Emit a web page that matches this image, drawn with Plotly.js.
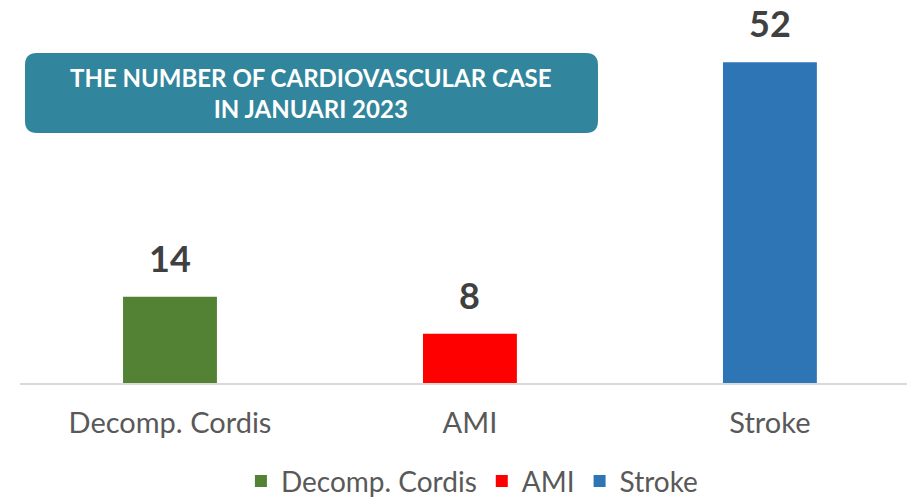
<!DOCTYPE html>
<html>
<head>
<meta charset="utf-8">
<script src="https://cdn.plot.ly/plotly-3.0.1.min.js"></script>
<style>html,body{margin:0;padding:0;background:#fff;}</style>
</head>
<body>
<div id="chart" style="width:907px;height:500px;"></div>
<script>
const categories = ["Decomp. Cordis", "AMI", "Stroke"];
const values = [14, 8, 52];
const colors = ["#548235", "#FF0000", "#2E75B6"];
const titleText = "THE NUMBER OF CARDIOVASCULAR CASE<br>IN JANUARI 2023";

const FONT = "Lato, 'Open Sans', sans-serif";

const traces = categories.map((c, i) => ({
  type: "bar",
  name: c,
  x: [c],
  y: [values[i]],
  width: 0.313,
  marker: {color: colors[i]},
  hoverinfo: "skip"
}));

const valueLabels = categories.map((c, i) => ({
  x: c, y: values[i], xref: "x", yref: "y",
  text: String(values[i]),
  showarrow: false, yanchor: "bottom", yshift: 15,
  font: {family: FONT, size: 36, color: "#404040", weight: "bold"}
}));

const boxX = 0.3286, boxY = 0.7836, hw = 286.5, hh = 40, r = 12;
const boxPath = `M ${-hw},${-hh + r} Q ${-hw},${-hh} ${-hw + r},${-hh} L ${hw - r},${-hh} Q ${hw},${-hh} ${hw},${-hh + r} L ${hw},${hh - r} Q ${hw},${hh} ${hw - r},${hh} L ${-hw + r},${hh} Q ${-hw},${hh} ${-hw},${hh - r} Z`;

const layout = {
  width: 907, height: 500,
  margin: {l: 20, r: 0, t: 13, b: 117.4, pad: 0, autoexpand: false},
  paper_bgcolor: "#ffffff", plot_bgcolor: "#ffffff",
  barmode: "overlay",
  font: {family: FONT, color: "#595959"},
  xaxis: {
    type: "category",
    range: [-0.5, 2.457],
    showline: true, linecolor: "#D9D9D9", linewidth: 2,
    showgrid: false, zeroline: false,
    ticks: "", ticklabelstandoff: 13,
    tickfont: {family: FONT, size: 29, color: "#595959"}
  },
  yaxis: {
    range: [0, 60], visible: false, showgrid: false, zeroline: false
  },
  showlegend: true,
  legend: {
    orientation: "h", xref: "paper", yref: "paper",
    x: 0.5095, xanchor: "center", y: -0.266, yanchor: "middle",
    font: {family: FONT, size: 28, color: "#595959"},
    traceorder: "normal"
  },
  shapes: [{
    type: "path", xref: "paper", yref: "paper",
    xsizemode: "pixel", ysizemode: "pixel",
    xanchor: boxX, yanchor: boxY,
    path: boxPath,
    fillcolor: "#31859C", line: {width: 0}, layer: "above"
  }],
  annotations: valueLabels.concat([{
    xref: "paper", yref: "paper", x: boxX, y: boxY,
    xanchor: "center", yanchor: "middle", showarrow: false,
    text: titleText, align: "center",
    font: {family: FONT, size: 24, color: "#ffffff", weight: "bold"}
  }])
};

Plotly.newPlot("chart", traces, layout, {displayModeBar: false, staticPlot: true});
</script>
</body>
</html>
